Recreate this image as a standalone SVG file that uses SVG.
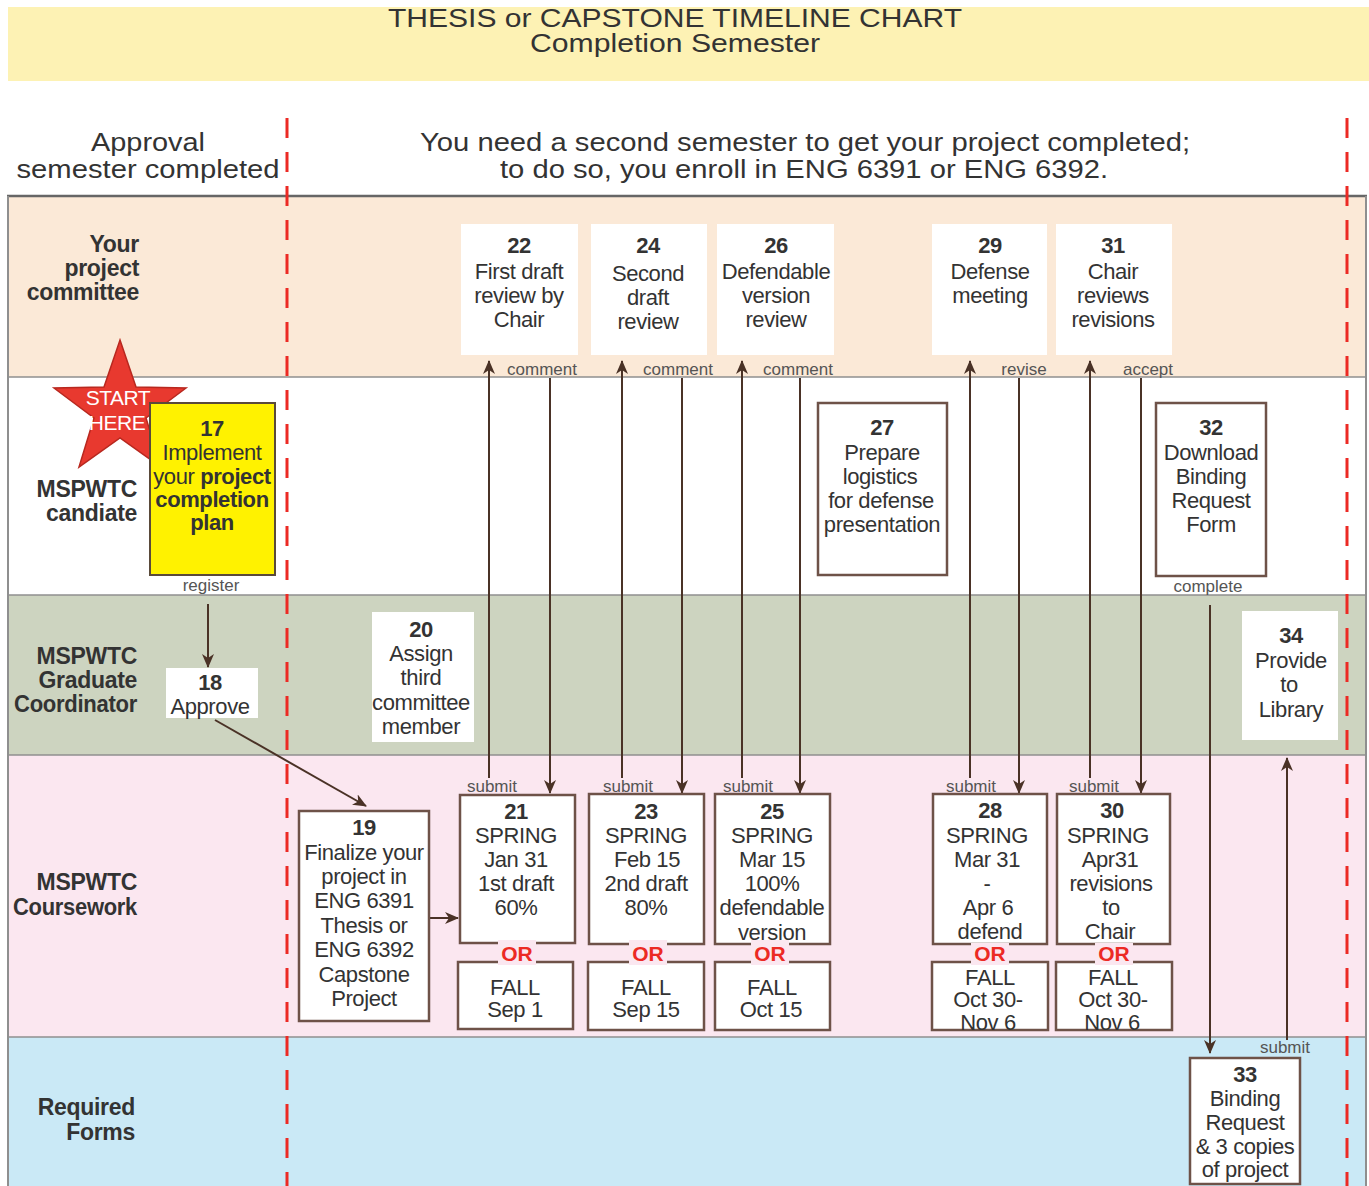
<svg xmlns="http://www.w3.org/2000/svg" width="1369" height="1186" viewBox="0 0 1369 1186">
<defs>
<marker id="ah" markerUnits="userSpaceOnUse" markerWidth="14" markerHeight="12" viewBox="0 0 14 12" refX="13" refY="6" orient="auto"><path d="M0,0 L14,6 L0,12 L4,6 z" fill="#4a3226"/></marker>
<style>
text{font-family:"Liberation Sans",Arial,sans-serif;fill:#333}
.t{font-size:22px;text-anchor:middle;letter-spacing:-0.4px}
.b{font-weight:bold}
.lane{font-size:23px;font-weight:bold;text-anchor:end;letter-spacing:-0.3px}
.sm{font-size:17px;fill:#555;text-anchor:middle}
.or{font-size:21px;font-weight:bold;fill:#ec2a24;text-anchor:middle}
.hd{font-size:26px;text-anchor:middle}
.box{fill:#fff;stroke:#6e5248;stroke-width:2.5}
.wbox{fill:#fff}
.arr{stroke:#4a3226;stroke-width:2;fill:none;marker-end:url(#ah)}
.sep{stroke:#8f8f8f;stroke-width:1.5}
.red{stroke:#ec2a24;stroke-width:3;stroke-dasharray:20 14;fill:none}
.orbg{fill:#fbe7f0}
</style>
</defs>
<rect width="1369" height="1186" fill="#fff"/>

<g id="header">
<rect x="8" y="7" width="1361" height="74" fill="#fdf2b4"/>
<text class="hd" x="675" y="27" textLength="574" lengthAdjust="spacingAndGlyphs">THESIS or CAPSTONE TIMELINE CHART</text>
<text class="hd" x="675" y="52" textLength="290" lengthAdjust="spacingAndGlyphs">Completion Semester</text>
<text class="hd" x="148" y="151" textLength="114" lengthAdjust="spacingAndGlyphs">Approval</text>
<text class="hd" x="148" y="178" textLength="263" lengthAdjust="spacingAndGlyphs">semester completed</text>
<text class="hd" x="805" y="151" textLength="770" lengthAdjust="spacingAndGlyphs">You need a second semester to get your project completed;</text>
<text class="hd" x="804" y="178" textLength="608" lengthAdjust="spacingAndGlyphs">to do so, you enroll in ENG 6391 or ENG 6392.</text>
</g>

<g id="lanes">
<rect x="8" y="196" width="1358" height="181" fill="#fbe9d7"/>
<rect x="8" y="377" width="1358" height="218" fill="#ffffff"/>
<rect x="8" y="595" width="1358" height="160" fill="#cdd4c0"/>
<rect x="8" y="755" width="1358" height="282" fill="#fbe7f0"/>
<rect x="8" y="1037" width="1358" height="149" fill="#cae9f6"/>
<line class="sep" x1="8" y1="377" x2="1366" y2="377"/>
<line class="sep" x1="8" y1="595" x2="1366" y2="595"/>
<line class="sep" x1="8" y1="755" x2="1366" y2="755"/>
<line class="sep" x1="8" y1="1037" x2="1366" y2="1037"/>
<line x1="7" y1="196" x2="1367" y2="196" stroke="#666" stroke-width="2.5"/>
<line x1="8" y1="196" x2="8" y2="1186" stroke="#8f8f8f" stroke-width="2"/>
<line x1="1366" y1="196" x2="1366" y2="1186" stroke="#8f8f8f" stroke-width="2"/>
<text class="lane" x="139" y="252">Your</text>
<text class="lane" x="139" y="276">project</text>
<text class="lane" x="139" y="300">committee</text>
<text class="lane" x="137" y="497">MSPWTC</text>
<text class="lane" x="137" y="521">candiate</text>
<text class="lane" x="137" y="664">MSPWTC</text>
<text class="lane" x="137" y="688">Graduate</text>
<text class="lane" x="137" y="712" textLength="123" lengthAdjust="spacingAndGlyphs">Coordinator</text>
<text class="lane" x="137" y="890">MSPWTC</text>
<text class="lane" x="137" y="915" textLength="124" lengthAdjust="spacingAndGlyphs">Coursework</text>
<text class="lane" x="135" y="1115">Required</text>
<text class="lane" x="135" y="1140">Forms</text>
</g>

<g id="dividers">
<line class="red" x1="287" y1="118" x2="287" y2="1186"/>
<line class="red" x1="1347" y1="118" x2="1347" y2="1186"/>
</g>

<g id="connectors">
<text class="sm" x="211" y="591">register</text>
<line class="arr" x1="208" y1="604" x2="208" y2="667"/>
<line class="arr" x1="215" y1="720" x2="366" y2="806"/>
<line class="arr" x1="430" y1="918" x2="458" y2="918"/>
<line class="arr" x1="489" y1="778" x2="489" y2="361"/>
<line class="arr" x1="550" y1="378" x2="550" y2="793"/>
<line class="arr" x1="622" y1="778" x2="622" y2="361"/>
<line class="arr" x1="682" y1="378" x2="682" y2="793"/>
<line class="arr" x1="742" y1="778" x2="742" y2="361"/>
<line class="arr" x1="800" y1="378" x2="800" y2="793"/>
<line class="arr" x1="970" y1="778" x2="970" y2="361"/>
<line class="arr" x1="1019" y1="378" x2="1019" y2="793"/>
<line class="arr" x1="1090" y1="778" x2="1090" y2="361"/>
<line class="arr" x1="1141" y1="378" x2="1141" y2="793"/>
<line class="arr" x1="1210" y1="605" x2="1210" y2="1053"/>
<line class="arr" x1="1287" y1="1040" x2="1287" y2="758"/>
<text class="sm" x="542" y="375">comment</text>
<text class="sm" x="678" y="375">comment</text>
<text class="sm" x="798" y="375">comment</text>
<text class="sm" x="1024" y="375">revise</text>
<text class="sm" x="1148" y="375">accept</text>
<text class="sm" x="492" y="792">submit</text>
<text class="sm" x="628" y="792">submit</text>
<text class="sm" x="748" y="792">submit</text>
<text class="sm" x="971" y="792">submit</text>
<text class="sm" x="1094" y="792">submit</text>
<text class="sm" x="1208" y="592">complete</text>
<text class="sm" x="1285" y="1053">submit</text>
</g>

<g id="start">
<polygon points="120,340 136,387 186,388 146,418 161,467 120,438 79,467 94,418 54,388 104,387" fill="#e8392f" stroke="#b8281f" stroke-width="1.5"/>
<text x="118" y="405" font-size="21" text-anchor="middle" letter-spacing="-0.5" style="fill:#fff">START</text>
<text x="117" y="430" font-size="21" text-anchor="middle" letter-spacing="-0.5" style="fill:#fff">HERE</text>
</g>

<g id="n17">
<rect x="150" y="403" width="125" height="172" fill="#fff200" stroke="#5a4a3a" stroke-width="2"/>
<text class="t"><tspan class="b" x="212" y="436">17</tspan><tspan x="212" y="460">Implement</tspan><tspan x="212" y="484">your <tspan class="b">project</tspan></tspan><tspan class="b" x="212" y="507">completion</tspan><tspan class="b" x="212" y="530">plan</tspan></text>
</g>

<g id="n18">
<rect class="wbox" x="166" y="668" width="92" height="50"/>
<text class="t"><tspan class="b" x="210" y="690">18</tspan><tspan x="210" y="714">Approve</tspan></text>
</g>

<g id="n20">
<rect class="wbox" x="372" y="612" width="102" height="130"/>
<text class="t"><tspan class="b" x="421" y="637">20</tspan><tspan x="421" y="661">Assign</tspan><tspan x="421" y="685">third</tspan><tspan x="421" y="710">committee</tspan><tspan x="421" y="734">member</tspan></text>
</g>

<g id="n19">
<rect class="box" x="299" y="811" width="130" height="210"/>
<text class="t"><tspan class="b" x="364" y="835">19</tspan><tspan x="364" y="860">Finalize your</tspan><tspan x="364" y="884">project in</tspan><tspan x="364" y="908">ENG 6391</tspan><tspan x="364" y="933">Thesis or</tspan><tspan x="364" y="957">ENG 6392</tspan><tspan x="364" y="982">Capstone</tspan><tspan x="364" y="1006">Project</tspan></text>
</g>

<g id="n21">
<rect class="box" x="460" y="795" width="115" height="148"/>
<text class="t"><tspan class="b" x="516" y="819">21</tspan><tspan x="516" y="843">SPRING</tspan><tspan x="516" y="867">Jan 31</tspan><tspan x="516" y="891">1st draft</tspan><tspan x="516" y="915">60%</tspan></text>
<rect class="box" x="458" y="962" width="115" height="67"/>
<text class="t"><tspan x="515" y="995">FALL</tspan><tspan x="515" y="1017">Sep 1</tspan></text>
<rect class="orbg" x="498" y="940" width="38" height="25"/>
<text class="or" x="517" y="961">OR</text>
</g>

<g id="n23">
<rect class="box" x="589" y="794" width="115" height="150"/>
<text class="t"><tspan class="b" x="646" y="819">23</tspan><tspan x="646" y="843">SPRING</tspan><tspan x="647" y="867">Feb 15</tspan><tspan x="646" y="891">2nd draft</tspan><tspan x="646" y="915">80%</tspan></text>
<rect class="box" x="588" y="962" width="116" height="68"/>
<text class="t"><tspan x="646" y="995">FALL</tspan><tspan x="646" y="1017">Sep 15</tspan></text>
<rect class="orbg" x="629" y="940" width="38" height="25"/>
<text class="or" x="648" y="961">OR</text>
</g>

<g id="n25">
<rect class="box" x="715" y="794" width="115" height="150"/>
<text class="t"><tspan class="b" x="772" y="819">25</tspan><tspan x="772" y="843">SPRING</tspan><tspan x="772" y="867">Mar 15</tspan><tspan x="772" y="891">100%</tspan><tspan x="772" y="915">defendable</tspan><tspan x="772" y="940">version</tspan></text>
<rect class="box" x="715" y="962" width="115" height="68"/>
<text class="t"><tspan x="772" y="995">FALL</tspan><tspan x="771" y="1017">Oct 15</tspan></text>
<rect class="orbg" x="751" y="940" width="38" height="25"/>
<text class="or" x="770" y="961">OR</text>
</g>

<g id="n28">
<rect class="box" x="933" y="794" width="114" height="150"/>
<text class="t"><tspan class="b" x="990" y="818">28</tspan><tspan x="987" y="843">SPRING</tspan><tspan x="987" y="867">Mar 31</tspan><tspan x="987" y="891">-</tspan><tspan x="988" y="915">Apr 6</tspan><tspan x="990" y="939">defend</tspan></text>
<rect class="box" x="932" y="962" width="116" height="68"/>
<text class="t"><tspan x="990" y="985">FALL</tspan><tspan x="988" y="1007">Oct 30-</tspan><tspan x="988" y="1030">Nov 6</tspan></text>
<rect class="orbg" x="971" y="943" width="38" height="22"/>
<text class="or" x="990" y="961">OR</text>
</g>

<g id="n30">
<rect class="box" x="1057" y="794" width="113" height="150"/>
<text class="t"><tspan class="b" x="1112" y="818">30</tspan><tspan x="1108" y="843">SPRING</tspan><tspan x="1110" y="867">Apr31</tspan><tspan x="1111" y="891">revisions</tspan><tspan x="1111" y="915">to</tspan><tspan x="1110" y="939">Chair</tspan></text>
<rect class="box" x="1056" y="962" width="116" height="68"/>
<text class="t"><tspan x="1113" y="985">FALL</tspan><tspan x="1113" y="1007">Oct 30-</tspan><tspan x="1112" y="1030">Nov 6</tspan></text>
<rect class="orbg" x="1095" y="943" width="38" height="22"/>
<text class="or" x="1114" y="961">OR</text>
</g>

<g id="n22">
<rect class="wbox" x="461" y="224" width="117" height="131"/>
<text class="t"><tspan class="b" x="519" y="253">22</tspan><tspan x="519" y="279">First draft</tspan><tspan x="519" y="303">review by</tspan><tspan x="519" y="327">Chair</tspan></text>
</g>
<g id="n24">
<rect class="wbox" x="591" y="224" width="116" height="131"/>
<text class="t"><tspan class="b" x="648" y="253">24</tspan><tspan x="648" y="281">Second</tspan><tspan x="648" y="305">draft</tspan><tspan x="648" y="329">review</tspan></text>
</g>
<g id="n26">
<rect class="wbox" x="717" y="224" width="117" height="131"/>
<text class="t"><tspan class="b" x="776" y="253">26</tspan><tspan x="776" y="279">Defendable</tspan><tspan x="776" y="303">version</tspan><tspan x="776" y="327">review</tspan></text>
</g>
<g id="n29">
<rect class="wbox" x="932" y="224" width="115" height="131"/>
<text class="t"><tspan class="b" x="990" y="253">29</tspan><tspan x="990" y="279">Defense</tspan><tspan x="990" y="303">meeting</tspan></text>
</g>
<g id="n31">
<rect class="wbox" x="1056" y="224" width="116" height="131"/>
<text class="t"><tspan class="b" x="1113" y="253">31</tspan><tspan x="1113" y="279">Chair</tspan><tspan x="1113" y="303">reviews</tspan><tspan x="1113" y="327">revisions</tspan></text>
</g>

<g id="n27">
<rect class="box" x="818" y="403" width="129" height="172"/>
<text class="t"><tspan class="b" x="882" y="435">27</tspan><tspan x="882" y="460">Prepare</tspan><tspan x="880" y="484">logistics</tspan><tspan x="881" y="508">for defense</tspan><tspan x="882" y="532">presentation</tspan></text>
</g>

<g id="n32">
<rect class="box" x="1156" y="403" width="110" height="173"/>
<text class="t"><tspan class="b" x="1211" y="435">32</tspan><tspan x="1211" y="460">Download</tspan><tspan x="1211" y="484">Binding</tspan><tspan x="1211" y="508">Request</tspan><tspan x="1211" y="532">Form</tspan></text>
</g>

<g id="n34">
<rect class="wbox" x="1242" y="611" width="96" height="129"/>
<text class="t"><tspan class="b" x="1291" y="643">34</tspan><tspan x="1291" y="668">Provide</tspan><tspan x="1289" y="692">to</tspan><tspan x="1291" y="717">Library</tspan></text>
</g>

<g id="n33">
<rect class="box" x="1190" y="1058" width="110" height="126"/>
<text class="t"><tspan class="b" x="1245" y="1082">33</tspan><tspan x="1245" y="1106">Binding</tspan><tspan x="1245" y="1130">Request</tspan><tspan x="1245" y="1154">&amp; 3 copies</tspan><tspan x="1245" y="1177">of project</tspan></text>
</g>
</svg>
